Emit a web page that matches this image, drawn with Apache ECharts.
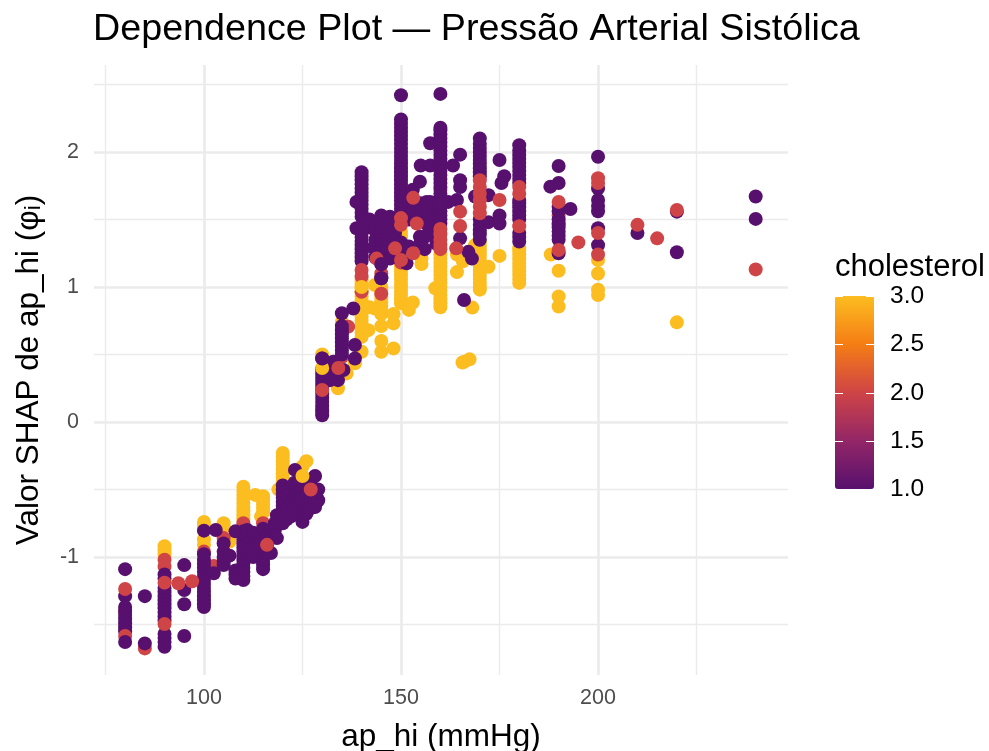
<!DOCTYPE html>
<html><head><meta charset="utf-8">
<style>html,body{margin:0;padding:0;background:#fff}#c{width:989px;height:751px}</style>
<script src="https://cdn.jsdelivr.net/npm/echarts@6/dist/echarts.min.js"></script>
</head><body><div id="c"></div>
<script>
const titleText = 'Dependence Plot — Pressão Arterial Sistólica';
const xName = 'ap_hi (mmHg)';
const yName = 'Valor SHAP de ap_hi (φᵢ)';
const legendName = 'cholesterol';
const xMajor = [100,150,200];
const xMinor = [75,125,175,225];
const yMajor = [-1,0,1,2];
const yMinor = [-1.5,-0.5,0.5,1.5,2.5];
const colorTicks = [1,1.5,2,2.5,3];
const palette = ['#57106E','#932667','#CF4446','#F57D15','#FCBD20'];

// each entry: [ap_hi, [SHAP values]]
const yellowBack = [
 [90,[-.92,-.95,-.98]],
 [100,[-.74,-.77,-.80,-.87,-.91]],[105,[-.75,-.78]],[106.5,[-.885]],
 [110,[-.48,-.51,-.54,-.57,-.60,-.63,-.66,-.69,-.72]],[113,[-.54]],
 [115,[-.55,-.58,-.61,-.64,-.67]],[114.5,[-.70]],
 [120,[-.23,-.26,-.29,-.32,-.35,-.38,-.41,-.44]],[118.9,[-.50]],[126,[-.29]],[125,[-.33]],
 [130,[.50,.40]],[134,[.25]],[136.2,[.36]],[135,[.74]],[138.3,[.435]],
 [140,[.52,.63,.66,.69,.72,.75,.78,.81,.84,.87,.90,.93,.96,.99,1.02,1.05]],[141.7,[.68]],[142,[.85]],
 [143.4,[1.015,.84]],[145,[.52,.60,.71,.80,.83,.86,.89,.92,.95,.98,1.0]],[148.1,[.545,.73,.80]],
 [150,[.88,.91,.94,.97,1.0,1.03,1.06,1.09,1.12,1.15,1.35,1.38,1.41]],[152,[.83]],[153,[.885]],
 [155.2,[1.17,1.21,1.25]],
 [160,[.85,.88,.91,.94,.97,1.0,1.03,1.06,1.09,1.12,1.15,1.18,1.21,1.24]],[158.7,[.99]],
 [164.2,[1.24,1.11]],[165.7,[1.19]],[168.1,[.847]],[166.1,[.447]],[167.4,[.464]],[165.6,[.44]],
 [170,[.98,1.0,1.03,1.06,1.09,1.12,1.15,1.18,1.21,1.24,1.27,1.30,1.33]],[168.8,[1.31]],[172.2,[1.15]],
 [175,[1.23]],
 [180,[1.03,1.06,1.09,1.12,1.15,1.18,1.21,1.24,1.27,1.29]],
 [188,[1.24]],[190,[.855,.93,1.12]],
 [200,[.94,.98,1.10,1.20]],[220,[.738]]
];
const redBack = [
 [80,[-1.40]],[85,[-1.677]],
 [90,[-1.02,-1.07]],[100,[-.96]],[102.5,[-1.067]],[105,[-.86]],
 [110,[-.75,-.79]],[115,[-.75]],[116,[-.91]],[130,[.10]],[135,[.48]],[136.6,[.706]],
 [140,[1.40,.965]],[145,[1.2,1.1,.95]],[150,[1.18]],[160,[1.72]],[190,[1.53,1.46]]
];
const purpleMain = [
 [80,[-1.09,-1.29,-1.37,-1.40,-1.43,-1.46,-1.49,-1.52,-1.55]],
 [85,[-1.29]],
 [90,[-1.13,-1.16,-1.23,-1.26,-1.29,-1.32,-1.35,-1.38,-1.41,-1.44,-1.47,-1.57,-1.60,-1.63,-1.665]],
 [95,[-1.06,-1.245,-1.35,-1.585]],
 [100,[-.805,-.98,-1.02,-1.05,-1.08,-1.11,-1.14,-1.17,-1.20,-1.23,-1.26,-1.29,-1.32,-1.35,-1.37]],
 [102.5,[-1.12]],[103,[-.80]],
 [105,[-.90,-.96,-1.0,-1.03,-1.06]],[106.5,[-.99]],
 [108,[-.81,-1.10,-1.13,-1.16]],
 [110,[-.81,-.84,-.87,-.90,-.93,-.96,-.99,-1.02,-1.05,-1.08,-1.11,-1.14,-1.17]],
 [111,[-.80,-.85,-.90]],[112,[-.90,-.95]],[112.5,[-.82,-1.0]],[113.5,[-.85,-.90,-.95]],
 [115,[-.79,-.97,-1.0,-1.03,-1.06,-1.09]],[116,[-.85,-.92]],[117,[-.80,-.85,-.97]],
 [118,[-.75,-.80]],[118.5,[-.69,-.86]],[119,[-.70,-.75]],
 [120,[-.47,-.50,-.53,-.56,-.59,-.62,-.65,-.68,-.71,-.75]],
 [121,[-.55,-.65,-.72]],[122,[-.50,-.60,-.70]],[123,[-.45,-.55,-.62,-.68]],[123.1,[-.355]],[124,[-.45,-.52]],
 [125,[-.50,-.55,-.60,-.65,-.74]],[126,[-.43,-.50,-.62,-.68]],[127,[-.45,-.58,-.64]],
 [128.2,[-.40,-.50,-.55,-.60,-.63]],[129,[-.50,-.58]],
 [130,[.05,.08,.12,.15,.18,.21,.24,.27,.30,.33,.36,.39,.47]],
 [132,[.31,.37]],[132.8,[.447]],[134,[.31]],[135.4,[.385]],
 [135,[.805,.50,.53,.56,.59,.62,.65,.68,.71]],[138.3,[.57,.47]],[137.9,[.84]],
 [140,[1.37,1.34,1.31,1.28,1.25,1.22,1.19,1.52,1.55,1.58,1.61,1.64,1.67,1.70,1.73,1.76,1.79,1.82,1.85]],
 [138.7,[1.63,1.435]],[141.7,[1.46]],[142,[1.44,1.47,1.50]],
 [143,[1.29,1.48]],[143.5,[1.22,1.35,1.42]],
 [145,[1.17,1.064,1.23,1.26,1.29,1.32,1.35,1.38,1.41,1.44,1.47,1.50,1.53]],
 [146.5,[1.25,1.30,1.40,1.45]],[147.2,[1.52,1.21]],[148,[1.35]],[148.5,[1.50,1.40]],[149.7,[1.237]],[151.4,[1.175]],
 [150,[1.33,1.55,1.58,1.61,1.64,1.67,1.70,1.73,1.76,1.79,1.82,1.85,1.88,1.91,1.94,1.97,2.0,2.03,2.06,2.09,2.12,2.15,2.18,2.21,2.24,2.42]],
 [152,[1.30,1.50,1.65]],[153,[1.60,1.55,1.72]],[154.8,[1.78,1.373,1.53]],[155,[1.90,1.335,1.62,1.55]],
 [156,[1.37,1.28]],[156.5,[1.63,1.47]],[157,[1.45,1.55]],[158.2,[1.385,1.62]],[159,[1.32,1.50]],
 [157.4,[2.064,1.90,1.63]],
 [160,[1.47,1.50,1.53,1.56,1.59,1.62,1.66,1.69,1.74,1.77,1.80,1.83,1.86,1.89,1.92,1.95,1.98,2.01,2.04,2.07,2.10,2.13,2.16,2.18,2.43]],
 [162,[1.63]],[163.2,[1.90]],
 [165,[1.98,1.79,1.74,1.36]],[164.2,[1.644]],[167.1,[1.26]],[168,[1.21]],[166,[.904]],
 [168.8,[1.67]],[172.2,[1.68,1.48]],
 [170,[1.35,1.39,1.42,1.46,1.50,1.82,1.85,1.88,1.91,1.94,1.97,2.0,2.03,2.06,2.1]],
 [175,[1.94,1.53,1.47]],[176.2,[1.82]],[175.5,[1.77]],
 [180,[1.336,1.37,1.4,1.5,1.53,1.56,1.59,1.62,1.644,1.77,1.80,1.83,1.86,1.89,1.92,1.95,1.98,2.01,2.05]],
 [187.9,[1.743]],[190,[1.896,1.77,1.595,1.56,1.5,1.47,1.44,1.41,1.38,1.35,1.25]],[193,[1.578]],
 [200,[1.965,1.73,1.644,1.60,1.56,1.435,1.31]],
 [210,[1.40]],[220,[1.558,1.257]],[240,[1.67,1.504]]
];
const redFront = [
 [80,[-1.237,-1.585]],[90,[-1.19,-1.496]],[93.5,[-1.195]],[97,[-1.18]],
 [116,[-.91]],[127.1,[-.50]],[130,[.237]],[134.1,[.40]],
 [140,[1.126,1.077]],[143.8,[1.21]],[148.5,[1.286]],
 [150,[1.51,1.46,1.20]],[153.1,[1.66,1.25]],[154,[1.47]],
 [160,[1.43,1.39,1.35,1.31,1.28]],
 [165,[1.558,1.452]],[164,[1.286]],
 [170,[1.79,1.74,1.69,1.644,1.595,1.546]],
 [175,[1.644]],[180,[1.74,1.69,1.45]],
 [190,[1.63,1.274]],[195,[1.33]],
 [200,[1.805,1.77,1.40,1.24]],[210,[1.46]],[215,[1.36]],[220,[1.57]],[240,[1.13]]
];
const yellowFront = [
 [130,[.40]],[125,[-.40]],[140,[1.0]]
];
const purpleFront = [
 [80,[-1.63]],[85,[-1.64]],[130,[.47]],[145,[1.17,1.064]],[160,[1.62]]
];

const expand = (list, c) => list.flatMap(([x, ys]) => ys.map(y => [x, y, c]));
const points = [].concat(
  expand(yellowBack,3), expand(redBack,2), expand(purpleMain,1),
  expand(redFront,2), expand(yellowFront,3), expand(purpleFront,1));

const FONT = '"Liberation Sans", Arial, sans-serif';
const hidden = {axisLine:{show:false},axisTick:{show:false},axisLabel:{show:false}};
const major = {show:true,lineStyle:{color:'#EBEBEB',width:2.7}};
const minor = {show:true,lineStyle:{color:'#EBEBEB',width:1.4}};
const XMIN=72.1, XMAX=248.2, YMIN=-1.874, YMAX=2.644;

const chart = echarts.init(document.getElementById('c'), null, {renderer:'canvas'});
chart.setOption({
  animation:false,
  backgroundColor:'#fff',
  textStyle:{fontFamily:FONT},
  title:[
    {text:titleText,left:93,top:11,padding:0,textStyle:{fontFamily:FONT,fontWeight:'normal',fontSize:37.7,color:'#000'}},
    {text:legendName,left:835,top:252,padding:0,textStyle:{fontFamily:FONT,fontWeight:'normal',fontSize:31,color:'#000'}}
  ],
  grid:[
    {left:94,right:201,top:65,bottom:76,outerBoundsMode:'none'},
    {left:835,width:39,top:296.5,height:192.5,outerBoundsMode:'none'}
  ],
  xAxis:[
    {type:'value',gridIndex:0,min:XMIN,max:XMAX,name:xName,nameLocation:'middle',nameGap:46,
     nameTextStyle:{fontFamily:FONT,fontSize:31.5,color:'#000'},
     axisLine:{show:false},axisTick:{show:false,customValues:xMajor},
     axisLabel:{color:'#4D4D4D',fontSize:21.5,margin:12,customValues:xMajor,formatter:v=>String(v)},
     splitLine:major},
    {type:'value',gridIndex:0,min:XMIN,max:XMAX,position:'top',...hidden,
     axisTick:{show:false,customValues:xMinor},axisLabel:{show:false,customValues:xMinor},splitLine:minor},
    {type:'value',gridIndex:1,min:0,max:1,show:false}
  ],
  yAxis:[
    {type:'value',gridIndex:0,min:YMIN,max:YMAX,name:yName,nameLocation:'middle',nameGap:49,
     nameTextStyle:{fontFamily:FONT,fontSize:31.5,color:'#000'},
     axisLine:{show:false},axisTick:{show:false,customValues:yMajor},
     axisLabel:{color:'#4D4D4D',fontSize:21.5,margin:15,customValues:yMajor,formatter:v=>String(v)},
     splitLine:major},
    {type:'value',gridIndex:0,min:YMIN,max:YMAX,position:'right',...hidden,
     axisTick:{show:false,customValues:yMinor},axisLabel:{show:false,customValues:yMinor},splitLine:minor},
    {type:'value',gridIndex:1,min:1,max:3,position:'left',z:20,axisLine:{show:false},splitLine:{show:false},
     axisLabel:{show:false,customValues:colorTicks},
     axisTick:{show:true,inside:true,length:8,lineStyle:{color:'#fff',width:1},customValues:colorTicks}},
    {type:'value',gridIndex:1,min:1,max:3,position:'right',z:20,axisLine:{show:false},splitLine:{show:false},
     axisLabel:{show:true,color:'#000',fontSize:24.5,margin:16,customValues:colorTicks,formatter:v=>v.toFixed(1)},
     axisTick:{show:true,inside:true,length:8,lineStyle:{color:'#fff',width:1},customValues:colorTicks}}
  ],
  visualMap:{type:'continuous',seriesIndex:0,dimension:2,min:1,max:3,left:835,top:296,padding:0,
    itemWidth:39,itemHeight:193,calculable:false,realtime:false,hoverLink:false,text:null,showLabel:false,
    inRange:{color:palette}},
  series:[{type:'scatter',xAxisIndex:0,yAxisIndex:0,data:points,symbol:'circle',symbolSize:14,
    itemStyle:{opacity:1},large:false,progressive:0,silent:true,z:5}]
});
</script></body></html>
